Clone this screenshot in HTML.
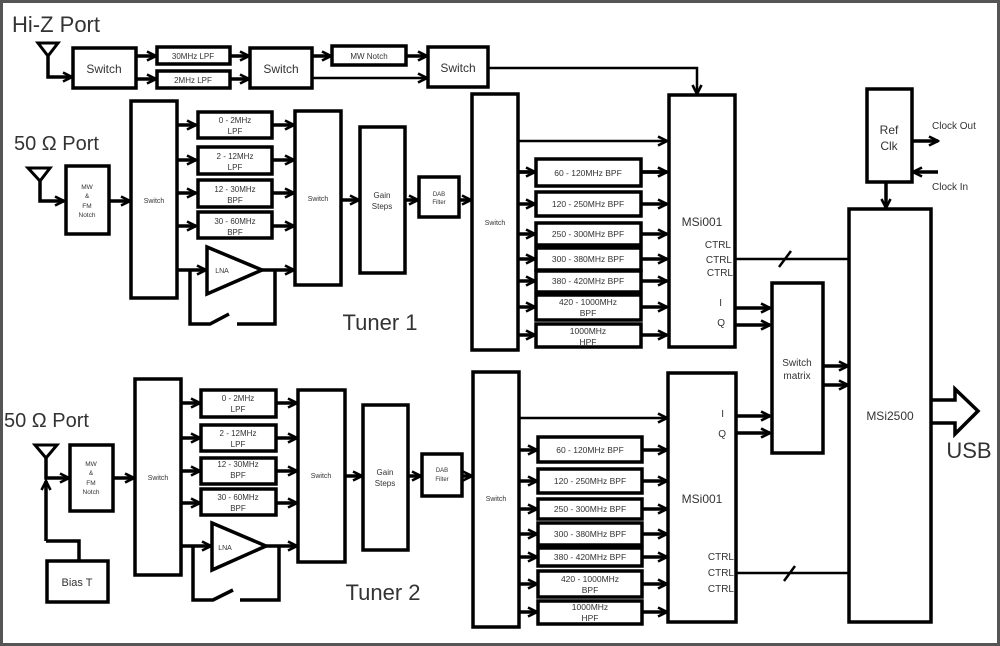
<!DOCTYPE html>
<html><head><meta charset="utf-8"><style>
html,body{margin:0;padding:0;background:#fff}
svg{display:block}
text{font-family:"Liberation Sans",sans-serif;fill:#333}
</style></head><body>
<svg width="1000" height="646" viewBox="0 0 1000 646" xmlns="http://www.w3.org/2000/svg">
<defs>
<marker id="a" viewBox="0 0 12 12" refX="10.5" refY="6" markerWidth="12" markerHeight="12" markerUnits="userSpaceOnUse" orient="auto">
<path d="M1.5,1.5 L10.5,6 L1.5,10.5" fill="none" stroke="#000" stroke-width="2.6"/>
</marker>
</defs>
<rect x="1.5" y="1.5" width="997" height="643" fill="#fff" stroke="#555" stroke-width="3"/>
<g fill="none" stroke="#000" stroke-width="3.5">
<!-- Hi-Z row -->
<path d="M38,43 L58,43 L48,56 Z" stroke-width="3"/>
<path d="M48,56 V77 H72" marker-end="url(#a)"/>
<rect x="73" y="48" width="63" height="40"/>
<path d="M136,56 H156" marker-end="url(#a)"/>
<path d="M136,79 H156" marker-end="url(#a)"/>
<rect x="157" y="47" width="73" height="17"/>
<rect x="157" y="71" width="73" height="17"/>
<path d="M230,56 H249" marker-end="url(#a)"/>
<path d="M230,79 H249" marker-end="url(#a)"/>
<rect x="250" y="48" width="62" height="40"/>
<path d="M312,56 H331" marker-end="url(#a)"/>
<path d="M312,78 H427" stroke-width="2.5" marker-end="url(#a)"/>
<rect x="332" y="46" width="74" height="19"/>
<path d="M406,56 H427" marker-end="url(#a)"/>
<rect x="428" y="47" width="60" height="40"/>
<path d="M488,68 H697 V94" stroke-width="2.5" marker-end="url(#a)"/>

<!-- Tuner 1 front -->
<path d="M28,168 L50,168 L40,181 Z" stroke-width="3"/>
<path d="M40,181 V201 H64" marker-end="url(#a)"/>
<rect x="66" y="166" width="43" height="68"/>
<path d="M109,201 H130" marker-end="url(#a)"/>
<rect x="131" y="101" width="46" height="197"/>
<path d="M177,125 H196" marker-end="url(#a)"/>
<path d="M177,160 H196" marker-end="url(#a)"/>
<path d="M177,193 H196" marker-end="url(#a)"/>
<path d="M177,226 H196" marker-end="url(#a)"/>
<rect x="198" y="112" width="74" height="26"/>
<rect x="198" y="147" width="74" height="27"/>
<rect x="198" y="180" width="74" height="27"/>
<rect x="198" y="212" width="74" height="26"/>
<path d="M272,125 H294" marker-end="url(#a)"/>
<path d="M272,160 H294" marker-end="url(#a)"/>
<path d="M272,193 H294" marker-end="url(#a)"/>
<path d="M272,226 H294" marker-end="url(#a)"/>
<path d="M207,247 L262,270 L207,294 Z"/>
<path d="M177,270 H206" marker-end="url(#a)"/>
<path d="M262,270 H294" marker-end="url(#a)"/>
<path d="M190,270 V324 H210 L229,314"/>
<path d="M237,324 H275 V270"/>
<rect x="295" y="111" width="46" height="174"/>
<path d="M341,200 H359" marker-end="url(#a)"/>
<rect x="360" y="127" width="45" height="146"/>
<path d="M405,200 H418" marker-end="url(#a)"/>
<rect x="419" y="177" width="40" height="40"/>
<path d="M459,200 H471" marker-end="url(#a)"/>
<rect x="472" y="94" width="46" height="256"/>
<path d="M518,141 H667" stroke-width="2.5" marker-end="url(#a)"/>
<rect x="536" y="159" width="105" height="27"/>
<rect x="536" y="192" width="105" height="24"/>
<rect x="536" y="223" width="105" height="22"/>
<rect x="536" y="248" width="105" height="22"/>
<rect x="536" y="271" width="105" height="21"/>
<rect x="536" y="295" width="105" height="25"/>
<rect x="536" y="324" width="105" height="23"/>
<path d="M518,172 H535 M641,172 H667" marker-end="url(#a)"/>
<path d="M518,204 H535" marker-end="url(#a)"/><path d="M641,204 H667" marker-end="url(#a)"/>
<path d="M518,234 H535" marker-end="url(#a)"/><path d="M641,234 H667" marker-end="url(#a)"/>
<path d="M518,259 H535" marker-end="url(#a)"/><path d="M641,259 H667" marker-end="url(#a)"/>
<path d="M518,281 H535" marker-end="url(#a)"/><path d="M641,281 H667" marker-end="url(#a)"/>
<path d="M518,307 H535" marker-end="url(#a)"/><path d="M641,307 H667" marker-end="url(#a)"/>
<path d="M518,335 H535" marker-end="url(#a)"/><path d="M641,335 H667" marker-end="url(#a)"/>
<path d="M518,172 H535" marker-end="url(#a)"/><path d="M641,172 H667" marker-end="url(#a)"/>
<rect x="669" y="95" width="66" height="252"/>
<path d="M735,259 H849" stroke-width="2.5"/>
<path d="M779,267 L791,251" stroke-width="2.5"/>
<path d="M735,308 H770" marker-end="url(#a)"/>
<path d="M735,325 H770" marker-end="url(#a)"/>

<!-- right side -->
<rect x="867" y="89" width="45" height="93"/>
<path d="M912,141 H938" marker-end="url(#a)"/>
<path d="M938,172 H913" marker-end="url(#a)"/>
<path d="M886,182 V208" marker-end="url(#a)"/>
<rect x="849" y="209" width="82" height="413"/>
<rect x="772" y="283" width="51" height="170"/>
<path d="M823,366 H848" marker-end="url(#a)"/>
<path d="M823,385 H848" marker-end="url(#a)"/>
<path d="M932,400 H955 V389 L978,411 L955,434 V423 H932" stroke-width="3.5"/>

<!-- Tuner 2 front -->
<path d="M35,445 L57,445 L46,458 Z" stroke-width="3"/>
<path d="M46,458 V478 H69" marker-end="url(#a)"/>
<path d="M46,541 V481" marker-end="url(#a)"/>
<path d="M46,541 H79 V561"/>
<rect x="47" y="561" width="61" height="41"/>
<rect x="70" y="445" width="43" height="66"/>
<path d="M113,478 H134" marker-end="url(#a)"/>
<rect x="135" y="379" width="46" height="196"/>
<path d="M181,403 H200" marker-end="url(#a)"/>
<path d="M181,438 H200" marker-end="url(#a)"/>
<path d="M181,471 H200" marker-end="url(#a)"/>
<path d="M181,503 H200" marker-end="url(#a)"/>
<rect x="201" y="390" width="75" height="27"/>
<rect x="201" y="425" width="75" height="26"/>
<rect x="201" y="458" width="75" height="26"/>
<rect x="201" y="489" width="75" height="26"/>
<path d="M276,403 H297" marker-end="url(#a)"/>
<path d="M276,438 H297" marker-end="url(#a)"/>
<path d="M276,471 H297" marker-end="url(#a)"/>
<path d="M276,503 H297" marker-end="url(#a)"/>
<path d="M212,523 L266,546 L212,570 Z"/>
<path d="M181,546 H211" marker-end="url(#a)"/>
<path d="M266,546 H297" marker-end="url(#a)"/>
<path d="M193,546 V600 H213 L233,590"/>
<path d="M240,600 H279 V546"/>
<rect x="298" y="390" width="47" height="172"/>
<path d="M345,476 H362" marker-end="url(#a)"/>
<rect x="363" y="405" width="45" height="145"/>
<path d="M408,476 H421" marker-end="url(#a)"/>
<rect x="422" y="454" width="40" height="42"/>
<path d="M462,476 H472" marker-end="url(#a)"/>
<rect x="473" y="372" width="46" height="255"/>
<path d="M519,418 H667" stroke-width="2.5" marker-end="url(#a)"/>
<rect x="538" y="437" width="104" height="25"/>
<rect x="538" y="469" width="104" height="24"/>
<rect x="538" y="499" width="104" height="20"/>
<rect x="538" y="523" width="104" height="22"/>
<rect x="538" y="548" width="104" height="18"/>
<rect x="538" y="571" width="104" height="26"/>
<rect x="538" y="601" width="104" height="23"/>
<path d="M519,450 H537" marker-end="url(#a)"/><path d="M642,450 H667" marker-end="url(#a)"/>
<path d="M519,481 H537" marker-end="url(#a)"/><path d="M642,481 H667" marker-end="url(#a)"/>
<path d="M519,509 H537" marker-end="url(#a)"/><path d="M642,509 H667" marker-end="url(#a)"/>
<path d="M519,534 H537" marker-end="url(#a)"/><path d="M642,534 H667" marker-end="url(#a)"/>
<path d="M519,557 H537" marker-end="url(#a)"/><path d="M642,557 H667" marker-end="url(#a)"/>
<path d="M519,584 H537" marker-end="url(#a)"/><path d="M642,584 H667" marker-end="url(#a)"/>
<path d="M519,612 H537" marker-end="url(#a)"/><path d="M642,612 H667" marker-end="url(#a)"/>
<rect x="668" y="373" width="68" height="249"/>
<path d="M736,573 H849" stroke-width="2.5"/>
<path d="M784,581 L795,566" stroke-width="2.5"/>
<path d="M736,416 H770" marker-end="url(#a)"/>
<path d="M736,433 H770" marker-end="url(#a)"/>
</g>

<g text-anchor="middle">
<text x="12" y="32" font-size="22" text-anchor="start">Hi-Z Port</text>
<text x="104" y="73" font-size="12">Switch</text>
<text x="193" y="59" font-size="8">30MHz LPF</text>
<text x="193" y="83" font-size="8">2MHz LPF</text>
<text x="281" y="73" font-size="12">Switch</text>
<text x="369" y="59" font-size="8">MW Notch</text>
<text x="458" y="72" font-size="12">Switch</text>

<text x="14" y="150" font-size="20" text-anchor="start">50 Ω Port</text>
<g font-size="6.5"><text x="87" y="189">MW</text><text x="87" y="198">&amp;</text><text x="87" y="208">FM</text><text x="87" y="217">Notch</text></g>
<text x="154" y="203" font-size="7">Switch</text>
<g font-size="8"><text x="235" y="123">0 - 2MHz</text><text x="235" y="134">LPF</text>
<text x="235" y="159">2 - 12MHz</text><text x="235" y="170">LPF</text>
<text x="235" y="192">12 - 30MHz</text><text x="235" y="203">BPF</text>
<text x="235" y="224">30 - 60MHz</text><text x="235" y="235">BPF</text></g>
<text x="222" y="273" font-size="7">LNA</text>
<text x="318" y="201" font-size="7">Switch</text>
<text x="382" y="198" font-size="8">Gain</text><text x="382" y="209" font-size="8">Steps</text>
<text x="439" y="196" font-size="6">DAB</text><text x="439" y="204" font-size="6">Filter</text>
<text x="495" y="225" font-size="7">Switch</text>
<text x="380" y="330" font-size="22">Tuner 1</text>
<g font-size="8.5"><text x="588" y="176">60 - 120MHz BPF</text>
<text x="588" y="207">120 - 250MHz BPF</text>
<text x="588" y="237">250 - 300MHz BPF</text>
<text x="588" y="262">300 - 380MHz BPF</text>
<text x="588" y="284">380 - 420MHz BPF</text>
<text x="588" y="305">420 - 1000MHz</text><text x="588" y="316">BPF</text>
<text x="588" y="334">1000MHz</text><text x="588" y="345">HPF</text></g>
<text x="702" y="226" font-size="12">MSi001</text>
<g font-size="10" text-anchor="end"><text x="731" y="248">CTRL</text><text x="732" y="263">CTRL</text><text x="733" y="276">CTRL</text>
<text x="722" y="306">I</text><text x="725" y="326">Q</text></g>
<text x="889" y="134" font-size="12">Ref</text><text x="889" y="150" font-size="12">Clk</text>
<text x="932" y="129" font-size="10" text-anchor="start">Clock Out</text>
<text x="932" y="190" font-size="10" text-anchor="start">Clock In</text>
<text x="797" y="366" font-size="10">Switch</text><text x="797" y="379" font-size="10">matrix</text>
<text x="890" y="420" font-size="12">MSi2500</text>
<text x="969" y="458" font-size="22">USB</text>

<text x="4" y="427" font-size="20" text-anchor="start">50 Ω Port</text>
<g font-size="6.5"><text x="91" y="466">MW</text><text x="91" y="475">&amp;</text><text x="91" y="485">FM</text><text x="91" y="494">Notch</text></g>
<text x="158" y="480" font-size="7">Switch</text>
<text x="77" y="586" font-size="11">Bias T</text>
<g font-size="8"><text x="238" y="401">0 - 2MHz</text><text x="238" y="412">LPF</text>
<text x="238" y="436">2 - 12MHz</text><text x="238" y="447">LPF</text>
<text x="238" y="467">12 - 30MHz</text><text x="238" y="478">BPF</text>
<text x="238" y="500">30 - 60MHz</text><text x="238" y="511">BPF</text></g>
<text x="225" y="550" font-size="7">LNA</text>
<text x="321" y="478" font-size="7">Switch</text>
<text x="385" y="475" font-size="8">Gain</text><text x="385" y="486" font-size="8">Steps</text>
<text x="442" y="472" font-size="6">DAB</text><text x="442" y="481" font-size="6">Filter</text>
<text x="496" y="501" font-size="7">Switch</text>
<text x="383" y="600" font-size="22">Tuner 2</text>
<g font-size="8.5"><text x="590" y="453">60 - 120MHz BPF</text>
<text x="590" y="484">120 - 250MHz BPF</text>
<text x="590" y="512">250 - 300MHz BPF</text>
<text x="590" y="537">300 - 380MHz BPF</text>
<text x="590" y="560">380 - 420MHz BPF</text>
<text x="590" y="582">420 - 1000MHz</text><text x="590" y="593">BPF</text>
<text x="590" y="610">1000MHz</text><text x="590" y="621">HPF</text></g>
<text x="702" y="503" font-size="12">MSi001</text>
<g font-size="10" text-anchor="end"><text x="734" y="560">CTRL</text><text x="734" y="576">CTRL</text><text x="734" y="592">CTRL</text>
<text x="724" y="417">I</text><text x="726" y="437">Q</text></g>
</g>
</svg>
</body></html>
